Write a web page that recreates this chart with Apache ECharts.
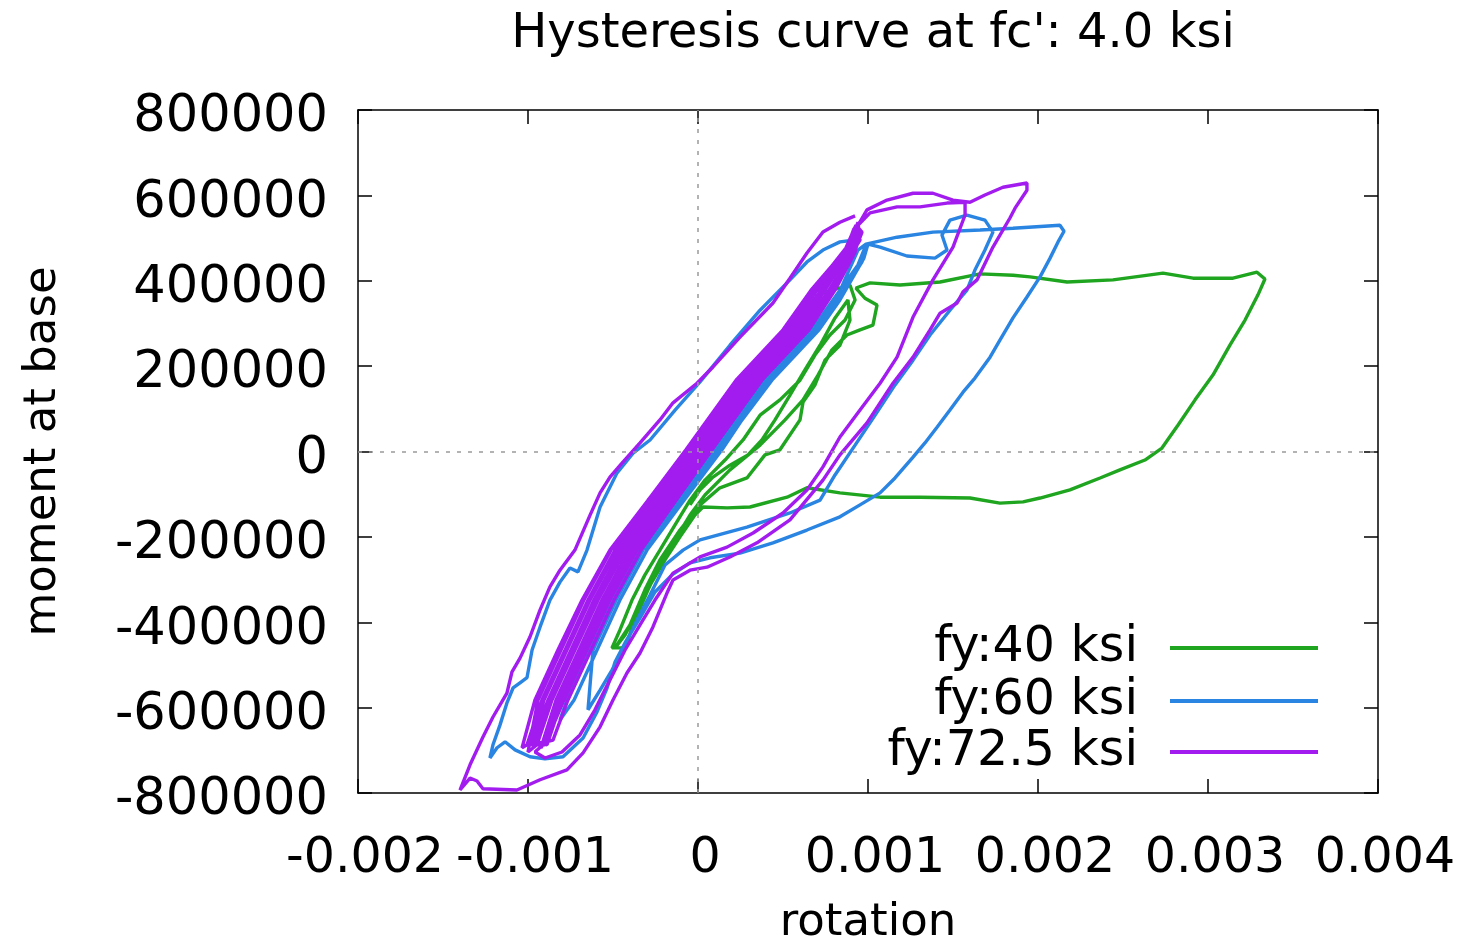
<!DOCTYPE html>
<html><head><meta charset="utf-8">
<script src="https://cdn.jsdelivr.net/npm/echarts/dist/echarts.min.js"></script>
<style>html,body{margin:0;padding:0;background:#fff}#chart{width:1461px;height:941px}</style>
</head><body><div id="chart"></div>
<script>
const chartTitle = "Hysteresis curve at fc': 4.0 ksi";
const seriesNames = ['fy:40 ksi', 'fy:60 ksi', 'fy:72.5 ksi'];
const xTickLabels = ['-0.002', '-0.001', '0', '0.001', '0.002', '0.003', '0.004'];
const yTickLabels = ['-800000', '-600000', '-400000', '-200000', '0', '200000', '400000', '600000', '800000'];

const greenRot = [0.000012, 0.000129, 0.000247, 0.000347, 0.000453, 0.000541, 0.000629, 0.000747, 0.000894, 0.000924,
 0.000865, 0.000776, 0.000688, 0.000600, 0.000482, 0.000365, 0.000265, 0.000159, 0.000041, -0.000047,
 -0.000135, -0.000224, -0.000312, -0.000388, -0.000459, -0.000506, -0.000429, -0.000371, -0.000294, -0.000224,
 -0.000135, -0.000047, 0.000041, 0.000188, 0.000365, 0.000512, 0.000618, 0.000706, 0.000788, 0.000876,
 0.000953, 0.001029, 0.001053, 0.000982, 0.000929, 0.001012, 0.001188, 0.001424, 0.001659, 0.001853,
 0.001953, 0.002171, 0.002441, 0.002735, 0.002912, 0.003147, 0.003288, 0.003335, 0.003294, 0.003218,
 0.003129, 0.003029, 0.002924, 0.002824, 0.002729, 0.002629, 0.002482, 0.002365, 0.002188, 0.002012,
 0.001912, 0.001776, 0.001600, 0.001306, 0.001071, 0.000835, 0.000641, 0.000524, 0.000306, 0.000171,
 0.000029, -0.000018, -0.000106, -0.000194, -0.000282, -0.000353, -0.000429, -0.000488, -0.000400, -0.000312,
 -0.000224, -0.000106, 0.000012, 0.000129, 0.000288, 0.000394, 0.000482, 0.000600, 0.000618,
 0.000688, 0.000747, 0.000835, 0.000894, 0.000882, 0.000806, 0.000718, 0.000629, 0.000541, 0.000453,
 0.000376, 0.000294, 0.000188, 0.000082, 0.000012, -0.000047];
const greenMoment = [-39000, 27000, 97000, 144000, 214000, 285000, 343000, 374000, 390000, 355000,
 308000, 273000, 226000, 167000, 121000, 85000, 27000, -20000, -67000, -114000,
 -172000, -231000, -289000, -348000, -418000, -460000, -460000, -395000, -324000, -266000,
 -207000, -149000, -102000, -43000, 15000, 74000, 121000, 179000, 238000, 273000,
 285000, 296000, 343000, 359000, 383000, 395000, 390000, 397000, 416000, 413000,
 409000, 397000, 402000, 418000, 406000, 406000, 420000, 404000, 367000, 308000,
 249000, 179000, 121000, 62000, 8000, -20000, -43000, -62000, -90000, -109000,
 -118000, -121000, -109000, -107000, -107000, -97000, -85000, -107000, -130000, -132000,
 -130000, -149000, -200000, -254000, -313000, -371000, -430000, -460000, -406000, -324000,
 -254000, -184000, -125000, -85000, -62000, -8000, 4000, 74000, 116000,
 156000, 214000, 249000, 308000, 355000, 313000, 249000, 191000, 132000, 74000,
 27000, -8000, -32000, -62000, -90000, -125000];

const blueRot = [0.000129, 0.000247, 0.000424, 0.000700, 0.000824, 0.000965, 0.000988, 0.000941, 0.000794, 0.000671,
 0.000394, 0.000218, 0.000100, -0.000124, -0.000341, -0.000500, -0.000635, -0.000771, -0.000812, -0.000729,
 -0.000594, -0.000459, -0.000300, -0.000082, 0.000141, 0.000259, 0.000435, 0.000712, 0.000835, 0.000976,
 0.001000, 0.001071, 0.001229, 0.001394, 0.001465, 0.001435, 0.001482, 0.001582, 0.001688, 0.001735,
 0.001688, 0.001629, 0.001582, 0.001482, 0.001365, 0.001265, 0.001159, 0.001041, 0.000924, 0.000806,
 0.000718, 0.000541, 0.000288, 0.000012, -0.000088, -0.000194, -0.000282, -0.000359, -0.000429, -0.000506,
 -0.000576, -0.000647, -0.000618, -0.000482, -0.000324, -0.000106, 0.000118, 0.000235, 0.000412, 0.000688,
 0.000812, 0.000894, 0.000941, 0.000988, 0.001171, 0.001382, 0.001659, 0.001853, 0.002129, 0.002153,
 0.002118, 0.002071, 0.002012, 0.001935, 0.001853, 0.001776, 0.001718, 0.001629, 0.001559, 0.001482,
 0.001406, 0.001335, 0.001265, 0.001159, 0.001071, 0.000953, 0.000835, 0.000641, 0.000441, 0.000247,
 0.000071, -0.000047, -0.000153, -0.000253, -0.000341, -0.000429, -0.000488, -0.000535, -0.000594, -0.000676,
 -0.000794, -0.000900, -0.000988, -0.001076, -0.001135, -0.001182, -0.001224, -0.001206, -0.001165, -0.001124,
 -0.001088, -0.001047, -0.001006, -0.000976, -0.000929, -0.000871, -0.000812, -0.000753, -0.000706, -0.000653,
 -0.000576, -0.000476, -0.000382, -0.000282, -0.000135, 0.000012, 0.000188, 0.000365, 0.000541, 0.000641,
 0.000735, 0.000835, 0.000912];
const blueMoment = [4000, 74000, 167000, 285000, 355000, 444000, 484000, 437000, 355000, 285000,
 167000, 74000, 4000, -114000, -231000, -348000, -465000, -582000, -629000, -582000,
 -465000, -348000, -231000, -114000, 4000, 74000, 167000, 285000, 355000, 453000,
 486000, 479000, 458000, 453000, 472000, 507000, 542000, 554000, 542000, 514000,
 472000, 425000, 378000, 331000, 273000, 214000, 156000, 85000, 15000, -55000,
 -114000, -144000, -177000, -207000, -231000, -266000, -336000, -395000, -453000, -512000,
 -559000, -605000, -465000, -348000, -231000, -114000, 4000, 74000, 167000, 285000,
 355000, 430000, 472000, 486000, 502000, 514000, 519000, 523000, 530000, 516000,
 491000, 453000, 409000, 362000, 313000, 261000, 221000, 172000, 139000, 97000,
 57000, 20000, -13000, -62000, -97000, -125000, -153000, -184000, -214000, -238000,
 -249000, -261000, -289000, -329000, -390000, -448000, -493000, -554000, -610000, -671000,
 -715000, -720000, -715000, -699000, -680000, -694000, -718000, -687000, -641000, -589000,
 -554000, -542000, -530000, -465000, -411000, -348000, -306000, -273000, -282000, -231000,
 -130000, -50000, -4000, 27000, 97000, 163000, 249000, 331000, 402000, 444000,
 472000, 491000, 495000];

const purpleRot = [
 0.000918, 0.000871, 0.000700, 0.000535, 0.000259, -0.000035, -0.000259, -0.000476, -0.000635, -0.000771, -0.000906, -0.000982,
 -0.000900, -0.000812, -0.000676, -0.000541, -0.000382, -0.000165, 0.000059, 0.000353, 0.000629, 0.000794, 0.000918, 0.000953,
 0.000929, 0.000882, 0.000735, 0.000571, 0.000294, 0.000000, -0.000224, -0.000441, -0.000600, -0.000735, -0.000871, -0.000959,
 -0.000853, -0.000765, -0.000629, -0.000494, -0.000335, -0.000129, 0.000082, 0.000353, 0.000618, 0.000782, 0.000912, 0.000941,
 0.000906, 0.000676, 0.000512, 0.000235, -0.000059, -0.000294, -0.000518, -0.000682, -0.000824, -0.000959, -0.001035,
 -0.001006, -0.000918, -0.000782, -0.000647, -0.000488, -0.000271, -0.000047, 0.000247, 0.000524, 0.000688, 0.000865, 0.000929,
 0.000965, 0.000924, 0.000806, 0.000641, 0.000365, 0.000071, -0.000153, -0.000371, -0.000529, -0.000665, -0.000800, -0.000888,
 -0.000971, -0.000882, -0.000747, -0.000612, -0.000453, -0.000235, -0.000012, 0.000282, 0.000559, 0.000724, 0.000882, 0.000941,
 0.000953, 0.000771, 0.000606, 0.000329, 0.000035, -0.000188, -0.000406, -0.000565, -0.000700, -0.000835, -0.000924,
 -0.000876, -0.000788, -0.000653, -0.000518, -0.000359, -0.000141, 0.000082, 0.000376, 0.000653, 0.000806, 0.000924, 0.000953,
 0.000894, 0.000665, 0.000500, 0.000224, -0.000071, -0.000294, -0.000512, -0.000671, -0.000806, -0.000941, -0.001000,
 -0.000947, -0.000859, -0.000724, -0.000588, -0.000429, -0.000212, 0.000012, 0.000306, 0.000582, 0.000747, 0.000894, 0.000941,
 0.001012, 0.001171, 0.001306, 0.001465, 0.001571,
 0.001571, 0.001500, 0.001382, 0.001265, 0.001171, 0.001071, 0.000953, 0.000835, 0.000735, 0.000641, 0.000500, 0.000324,
 0.000171, 0.000012, -0.000147, -0.000253, -0.000341, -0.000429, -0.000518, -0.000606, -0.000694, -0.000800, -0.000900, -0.000959,
 -0.000912, -0.000824, -0.000688, -0.000553, -0.000394, -0.000176, 0.000047, 0.000341, 0.000618, 0.000782, 0.000912, 0.000941,
 0.000994, 0.001112, 0.001265, 0.001382, 0.001500, 0.001600, 0.001688, 0.001794, 0.001935, 0.001935, 0.001865, 0.001835,
 0.001735, 0.001641, 0.001559, 0.001524, 0.001424, 0.001365, 0.001265, 0.001147, 0.000994, 0.000835, 0.000735, 0.000541,
 0.000347, 0.000188, 0.000053, -0.000047, -0.000147, -0.000182, -0.000265, -0.000341, -0.000418, -0.000500, -0.000576, -0.000676,
 -0.000771, -0.000929, -0.001065, -0.001265, -0.001300, -0.001341, -0.001400,
 -0.001341, -0.001265, -0.001206, -0.001124, -0.001094, -0.001047, -0.000988, -0.000929, -0.000871, -0.000812,
 -0.000724, -0.000635, -0.000576, -0.000518, -0.000447, -0.000341, -0.000224, -0.000147, -0.000006, 0.000088,
 0.000247, 0.000441, 0.000541, 0.000641, 0.000735, 0.000835, 0.000924];
const purpleMoment = [
 523000, 472000, 378000, 285000, 167000, 4000, -114000, -231000, -348000, -465000, -582000, -687000,
 -687000, -582000, -465000, -348000, -231000, -114000, 4000, 167000, 285000, 378000, 472000, 523000,
 507000, 472000, 378000, 285000, 167000, 4000, -114000, -231000, -348000, -465000, -582000, -687000,
 -676000, -582000, -465000, -348000, -231000, -114000, 4000, 167000, 285000, 378000, 472000, 530000,
 495000, 378000, 285000, 167000, 4000, -114000, -231000, -348000, -465000, -582000, -694000,
 -687000, -582000, -465000, -348000, -231000, -114000, 4000, 167000, 285000, 378000, 472000, 530000,
 514000, 472000, 378000, 285000, 167000, 4000, -114000, -231000, -348000, -465000, -582000, -687000,
 -676000, -582000, -465000, -348000, -231000, -114000, 4000, 167000, 285000, 378000, 472000, 537000,
 495000, 378000, 285000, 167000, 4000, -114000, -231000, -348000, -465000, -582000, -694000,
 -664000, -582000, -465000, -348000, -231000, -114000, 4000, 167000, 285000, 378000, 467000, 519000,
 484000, 378000, 285000, 167000, 4000, -114000, -231000, -348000, -465000, -582000, -704000,
 -687000, -582000, -465000, -348000, -231000, -114000, 4000, 167000, 285000, 378000, 472000, 530000,
 559000, 573000, 573000, 582000, 584000,
 554000, 479000, 402000, 315000, 221000, 160000, 97000, 34000, -36000, -90000, -144000, -191000,
 -224000, -247000, -285000, -348000, -406000, -465000, -535000, -605000, -664000, -704000, -718000, -704000,
 -687000, -582000, -465000, -348000, -231000, -114000, 4000, 167000, 285000, 378000, 472000, 530000,
 566000, 589000, 605000, 605000, 589000, 584000, 601000, 619000, 629000, 612000, 570000, 547000,
 479000, 402000, 374000, 348000, 324000, 285000, 221000, 160000, 67000, -8000, -67000, -160000,
 -214000, -247000, -271000, -278000, -301000, -331000, -411000, -472000, -519000, -582000, -645000, -706000,
 -746000, -769000, -793000, -790000, -772000, -765000, -793000,
 -734000, -669000, -622000, -566000, -516000, -484000, -434000, -371000, -317000, -278000,
 -231000, -149000, -97000, -60000, -27000, 20000, 74000, 114000, 160000, 198000,
 268000, 348000, 406000, 465000, 514000, 537000, 552000];

const colors = ['#1fa51f', '#2a84e2', '#a21cf0'];
const F = 'DejaVu Sans';
const xMin = -0.002, xMax = 0.004, xStep = 0.001;
const yMin = -800000, yMax = 800000, yStep = 200000;

function zip(a, b) { return a.map((v, i) => [v, b[i]]); }
const xFmt = v => xTickLabels[Math.round((v - xMin) / xStep)];
const yFmt = v => '{a|' + yTickLabels[Math.round((v - yMin) / yStep)] + '}';

const lineBlack = { color: '#000', width: 1.5 };
function xAx(pos, main) {
  return {
    type: 'value', min: xMin, max: xMax, interval: xStep, position: pos,
    name: main ? 'rotation' : '', nameLocation: 'middle', nameGap: 108,
    nameTextStyle: { fontFamily: F, fontSize: 45, color: '#000' },
    axisLine: { show: true, onZero: false, lineStyle: lineBlack },
    axisTick: { show: true, inside: true, length: 14, lineStyle: lineBlack },
    axisLabel: { show: main, fontFamily: F, fontSize: 49, color: '#000', margin: 42,
      padding: [0, 0, 0, 14], formatter: xFmt },
    splitLine: { show: false }
  };
}
function yAx(pos, main) {
  return {
    type: 'value', min: yMin, max: yMax, interval: yStep, position: pos,
    name: main ? 'moment at base' : '', nameLocation: 'middle', nameGap: 292,
    nameTextStyle: { fontFamily: F, fontSize: 45, color: '#000' },
    axisLine: { show: true, onZero: false, lineStyle: lineBlack },
    axisTick: { show: true, inside: true, length: 14, lineStyle: lineBlack },
    axisLabel: { show: main, fontFamily: F, fontSize: 51, color: '#000', margin: 30,
      formatter: yFmt,
      rich: { a: { fontFamily: F, fontSize: 51, color: '#000', padding: [16, 0, 0, 0] } } },
    splitLine: { show: false }
  };
}

const datasets = [zip(greenRot, greenMoment), zip(blueRot, blueMoment), zip(purpleRot, purpleMoment)];
const legendCenters = [648, 701, 752];

const chart = echarts.init(document.getElementById('chart'), null, { renderer: 'canvas' });
chart.setOption({
  animation: false,
  backgroundColor: '#fff',
  title: { text: chartTitle, left: 868, textAlign: 'center', top: 6,
    textStyle: { fontFamily: F, fontSize: 48, fontWeight: 'normal', color: '#000' } },
  grid: { left: 358, right: 83, top: 110, bottom: 148, containLabel: false, outerBoundsMode: 'none' },
  xAxis: [xAx('bottom', true), xAx('top', false)],
  yAxis: [yAx('left', true), yAx('right', false)],
  legend: seriesNames.map((n, i) => ({
    data: [n], orient: 'vertical', right: 143, top: legendCenters[i] - 28, align: 'right',
    icon: 'rect', itemWidth: 148, itemHeight: 4, padding: 0, selectedMode: false,
    textStyle: { fontFamily: F, fontSize: 49, color: '#000', lineHeight: 56, padding: [0, 27, 0, 0] }
  })),
  series: [
    { type: 'line', name: '_zero', data: [], z: 1, silent: true,
      markLine: { silent: true, symbol: 'none', animation: false, label: { show: false },
        lineStyle: { color: '#9a9a9a', type: [4, 7], width: 1.5 },
        data: [{ xAxis: 0 }, { yAxis: 0 }] } }
  ].concat(seriesNames.map((n, i) => ({
    type: 'line', name: n, data: datasets[i], z: 2 + i,
    showSymbol: false, symbol: 'none', color: colors[i],
    itemStyle: { color: colors[i] },
    lineStyle: { width: 3.4, color: colors[i] },
    emphasis: { disabled: true }
  })))
});
</script>
</body></html>
